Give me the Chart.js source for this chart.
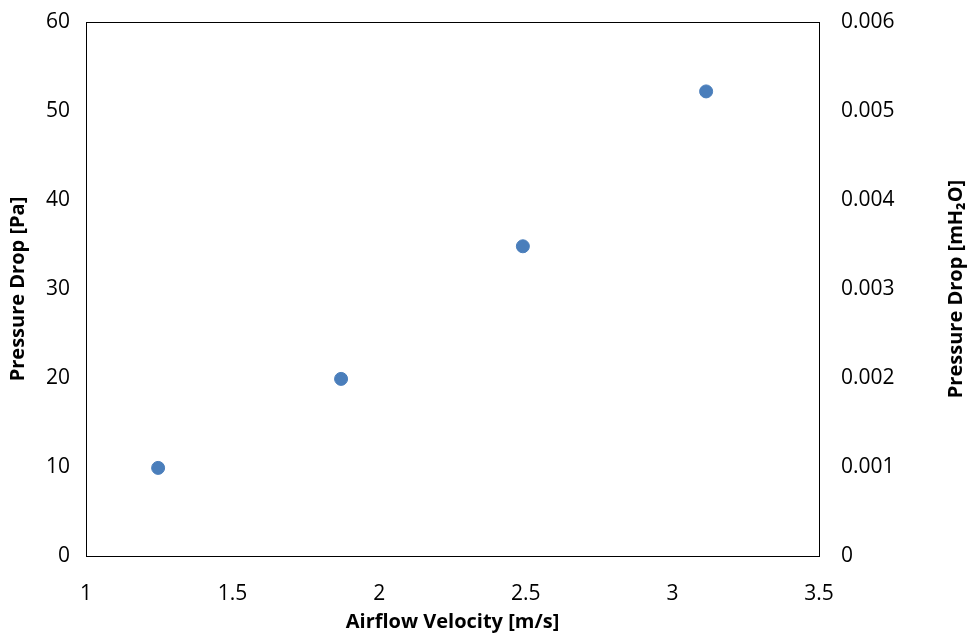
<!DOCTYPE html>
<html>
<head>
<meta charset="utf-8">
<script src="https://cdn.jsdelivr.net/npm/chart.js@4"></script>
<style>
  html, body { margin: 0; padding: 0; background: #fff; }
  #wrap { width: 970px; height: 635px; }
</style>
</head>
<body>
<div id="wrap"><canvas id="chart"></canvas></div>
<script>
// --- Data ---
const velocity = [1.246, 1.87, 2.49, 3.115];
const pressurePa = [9.9, 19.9, 34.8, 52.2];
const xTicks = [1, 1.5, 2, 2.5, 3, 3.5];
const yTicksPa = [0, 10, 20, 30, 40, 50, 60];
const yTicksWater = [0, 0.001, 0.002, 0.003, 0.004, 0.005, 0.006];
const rightTitle = 'Pressure Drop [mH₂O]';

const FONT = "'Open Sans', 'Noto Sans', sans-serif";
const TICK_SIZE = 21;
const TITLE_SIZE = 20;

// black frame round the plot area, plus the right axis title read bottom-to-top
const extras = {
  id: 'extras',
  afterDatasetsDraw(chart) {
    const a = chart.chartArea;
    const ctx = chart.ctx;
    ctx.save();
    ctx.strokeStyle = '#000';
    ctx.lineWidth = 1;
    ctx.strokeRect(Math.round(a.left) + 0.5, Math.round(a.top) + 0.5,
      Math.round(a.right - a.left), Math.round(a.bottom - a.top));
    ctx.restore();
  },
  afterDraw(chart) {
    const s = chart.scales.y2;
    const ctx = chart.ctx;
    ctx.save();
    ctx.translate(s.right - 14, (s.top + s.bottom) / 2);
    ctx.rotate(-Math.PI / 2);
    ctx.font = 'bold ' + TITLE_SIZE + 'px ' + FONT;
    ctx.fillStyle = '#000';
    ctx.textAlign = 'center';
    ctx.textBaseline = 'middle';
    ctx.fillText(rightTitle, 0, 0);
    ctx.restore();
  }
};

// fixed axis widths; drop the extra room chart.js keeps for the end labels
function fitVertical(width) {
  return s => {
    s.width = width;
    s.paddingTop = 0;
    s.paddingBottom = 0;
  };
}

new Chart(document.getElementById('chart').getContext('2d'), {
  type: 'scatter',
  data: {
    datasets: [{
      label: 'Pressure Drop',
      data: velocity.map((v, i) => ({ x: v, y: pressurePa[i] })),
      backgroundColor: '#4a7ebb',
      borderColor: '#4a7ebb',
      pointRadius: 6.5,
      pointHoverRadius: 6.5,
      yAxisID: 'y'
    }]
  },
  options: {
    responsive: true,
    maintainAspectRatio: false,
    animation: false,
    layout: { autoPadding: false, padding: { top: 22, left: 0, right: 0, bottom: 0 } },
    plugins: { legend: { display: false }, tooltip: { enabled: false } },
    scales: {
      x: {
        type: 'linear',
        min: xTicks[0],
        max: xTicks[xTicks.length - 1],
        afterBuildTicks: s => { s.ticks = xTicks.map(v => ({ value: v })); },
        afterFit: s => { s.height = 79; },
        grid: { display: false, drawTicks: false },
        border: { display: false },
        ticks: {
          color: '#000', padding: 25,
          font: { family: FONT, size: TICK_SIZE },
          callback: v => String(+v.toFixed(1))
        },
        title: {
          display: true, text: 'Airflow Velocity [m/s]', color: '#000',
          font: { family: FONT, size: TITLE_SIZE, weight: 'bold' },
          padding: { top: 0, bottom: 1 }
        }
      },
      y: {
        type: 'linear', position: 'left',
        min: yTicksPa[0],
        max: yTicksPa[yTicksPa.length - 1],
        afterBuildTicks: s => { s.ticks = yTicksPa.map(v => ({ value: v })); },
        afterFit: fitVertical(86),
        grid: { display: false, drawTicks: false },
        border: { display: false },
        ticks: {
          color: '#000', padding: 16,
          font: { family: FONT, size: TICK_SIZE }
        },
        title: {
          display: true, text: 'Pressure Drop [Pa]', color: '#000',
          font: { family: FONT, size: TITLE_SIZE, weight: 'bold' },
          padding: { top: 6, bottom: 0 }
        }
      },
      y2: {
        type: 'linear', position: 'right', display: true,
        min: yTicksWater[0],
        max: yTicksWater[yTicksWater.length - 1],
        afterBuildTicks: s => { s.ticks = yTicksWater.map(v => ({ value: v })); },
        afterFit: fitVertical(151),
        grid: { display: false, drawTicks: false },
        border: { display: false },
        ticks: {
          color: '#000', padding: 22,
          font: { family: FONT, size: TICK_SIZE },
          callback: v => v === 0 ? '0' : v.toFixed(3)
        },
        title: { display: false }
      }
    }
  },
  plugins: [extras]
});
</script>
</body>
</html>
